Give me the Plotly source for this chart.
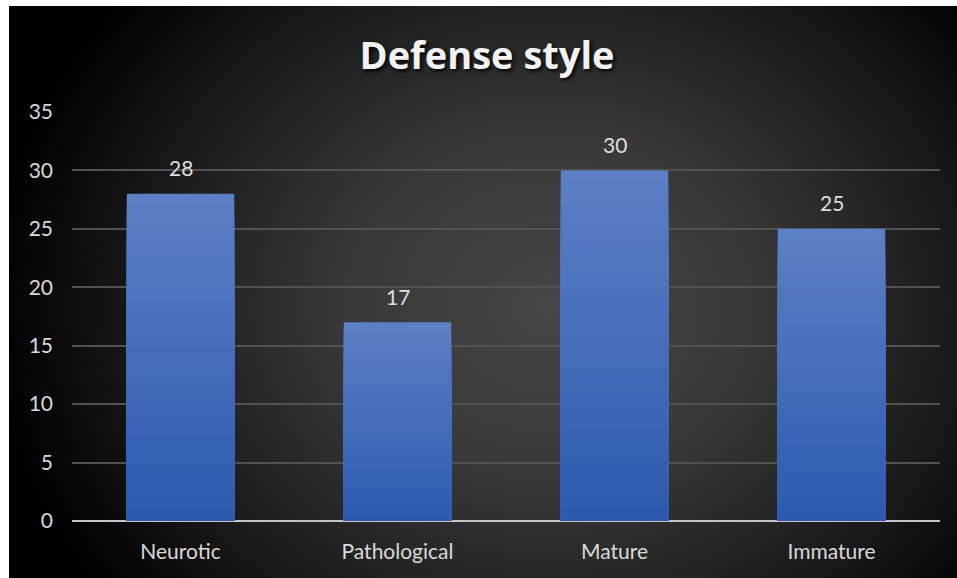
import base64
import plotly.graph_objects as go

categories = ["Neurotic", "Pathological", "Mature", "Immature"]
values = [28, 17, 30, 25]
y_ticks = [0, 5, 10, 15, 20, 25, 30, 35]
title_text = "Defense style"

# Plot area geometry (px)
W, H = 957, 578
L, R, T, B = 72, 17, 112, 57
pw, ph = W - L - R, H - T - B

# radial gradient background as inline SVG
svg = f'''<svg xmlns="http://www.w3.org/2000/svg" width="948" height="572" viewBox="0 0 948 572" preserveAspectRatio="none">
<defs><radialGradient id="g" gradientUnits="userSpaceOnUse" cx="540" cy="300" r="560" gradientTransform="translate(540 300) scale(1 0.85) translate(-540 -300)">
<stop offset="0" stop-color="#454545"/><stop offset="0.35" stop-color="#393939"/><stop offset="0.7" stop-color="#1c1c1c"/><stop offset="1" stop-color="#000000"/>
</radialGradient></defs><rect width="948" height="572" fill="url(#g)"/></svg>'''
src = "data:image/svg+xml;base64," + base64.b64encode(svg.encode()).decode()

bx0, by0 = 9, 6
img = dict(
    source=src, xref="paper", yref="paper",
    x=(bx0 - L) / pw, y=(H - B - by0) / ph,
    sizex=(W - bx0) / pw, sizey=(H - by0) / ph,
    xanchor="left", yanchor="top", sizing="stretch", layer="below",
)

fig = go.Figure()

# gradient bars: overlaid bars, lighter at top, darker toward bottom
N = 30
top = (92, 127, 197)
bot = (43, 89, 174)
for k in range(N):
    f = 1 - k / N
    c = tuple(round(bot[i] + (top[i] - bot[i]) * f) for i in range(3))
    fig.add_trace(go.Bar(
        x=categories, y=[v * f for v in values],
        marker=dict(color=f"rgb{c}", line=dict(width=0)),
        width=0.495, hoverinfo="skip", showlegend=False,
    ))

for c, v in zip(categories, values):
    fig.add_annotation(x=c, y=v, text=str(v), showarrow=False,
                       yanchor="middle", yshift=26,
                       font=dict(family="Lato", size=21, color="#dedede"))

fig.update_layout(
    width=W, height=H,
    margin=dict(l=L, r=R, t=T, b=B),
    paper_bgcolor="white", plot_bgcolor="rgba(0,0,0,0)",
    barmode="overlay",
    images=[img],
    title=dict(text=title_text, x=487 / W, xanchor="center",
               y=1 - 56 / H, yanchor="middle", yref="container",
               font=dict(family="Open Sans", size=38, weight="bold", color="#f2f2f2",
                         shadow="2px 2px 4px #000000")),
    xaxis=dict(showgrid=False, showline=False, zeroline=False, ticks="",
               tickfont=dict(family="Lato", size=21, color="#d9d9d9"),
               ticklabelstandoff=16),
    yaxis=dict(range=[0, 35], tickvals=y_ticks, showgrid=True,
               gridcolor="#525252", gridwidth=2, zeroline=True,
               zerolinecolor="#c4c4c4", zerolinewidth=2, showline=False, ticks="",
               tickfont=dict(family="Lato", size=21, color="#d9d9d9"),
               ticklabelstandoff=18),
)

fig.write_html("out.html")
